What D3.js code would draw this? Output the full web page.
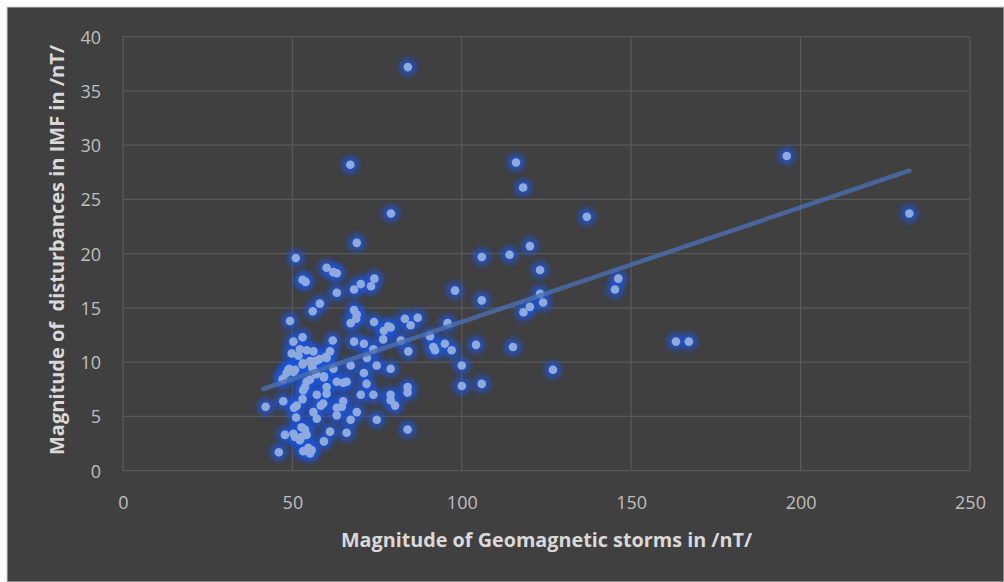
<!DOCTYPE html>
<html>
<head>
<meta charset="utf-8">
<script src="https://d3js.org/d3.v7.min.js"></script>
<style>
    body { margin: 0; background: #ffffff; }
    svg { display: block; }
</style>
</head>
<body>
<script>
// Magnitude of Geomagnetic storms (nT)
var stormX = [
    84.1, 67.1, 116.0, 118.1, 79.1, 136.9, 69.0, 120.1, 105.9, 114.1, 51.0, 123.1,
    195.9, 232.1, 146.2, 145.2, 98.0, 105.9, 123.1, 124.0, 120.1, 118.2, 95.8, 90.6,
    95.0, 91.6, 92.1, 97.0, 104.2, 115.1, 100.0, 100.0, 105.9, 126.9, 163.2, 167.0,
    60.1, 62.1, 63.1, 53.0, 53.9, 74.2, 70.2, 73.2, 68.2, 63.1, 58.1, 56.0,
    68.2, 69.0, 68.8, 67.2, 49.3, 74.1, 78.3, 79.0, 77.0, 76.8, 83.2, 84.9,
    87.0, 53.0, 50.3, 61.9, 68.2, 71.1, 82.0, 73.9, 84.2, 52.2, 54.2, 56.2,
    61.1, 59.9, 58.1, 56.7, 72.0, 53.0,
    49.1, 50.3, 48.3, 47.1, 56.0, 62.1, 67.2, 74.9, 79.0, 71.1, 59.3, 54.2,
    53.7, 55.2, 60.1, 60.1, 63.1, 65.0, 66.0, 71.9, 84.0, 84.0, 70.2, 73.9,
    79.0, 79.0, 80.3, 57.2, 53.0, 53.2, 42.1, 47.3, 50.5, 51.3, 56.2, 59.1,
    58.4, 63.1, 64.6, 65.0, 63.1, 69.0, 67.2, 74.9, 57.2, 51.1, 84.0, 66.0,
    61.1, 59.3, 47.8, 50.3, 50.8, 52.7, 53.7, 52.7, 52.2, 54.2, 46.0, 53.2,
    54.7, 55.2, 55.7,
    53.2, 55.2, 57.6, 60.1, 48.8, 50.8, 47.3, 59.3, 51.8, 55.8, 57.0, 49.8
];

// Magnitude of disturbances in IMF (nT)
var imfY = [
    37.2, 28.2, 28.4, 26.1, 23.7, 23.4, 21.0, 20.7, 19.7, 19.9, 19.6, 18.5,
    29.0, 23.7, 17.7, 16.7, 16.6, 15.7, 16.3, 15.5, 15.1, 14.6, 13.6, 12.4,
    11.7, 11.4, 11.1, 11.1, 11.6, 11.4, 9.7, 7.8, 8.0, 9.3, 11.9, 11.9,
    18.7, 18.3, 18.2, 17.6, 17.4, 17.7, 17.2, 17.0, 16.7, 16.4, 15.4, 14.7,
    14.8, 14.4, 14.0, 13.6, 13.8, 13.7, 13.3, 13.2, 12.9, 12.1, 14.0, 13.4,
    14.1, 12.3, 11.9, 12.0, 11.9, 11.7, 12.0, 11.2, 11.0, 11.2, 11.1, 11.0,
    11.0, 10.5, 10.3, 10.1, 10.4, 9.8,
    9.4, 9.1, 9.0, 8.4, 9.4, 9.4, 9.7, 9.7, 9.4, 9.0, 8.7, 8.2,
    7.7, 8.4, 7.7, 7.1, 8.2, 8.1, 8.2, 8.0, 7.7, 7.2, 7.0, 7.0,
    7.0, 6.5, 6.0, 7.0, 6.6, 7.4, 5.9, 6.4, 5.8, 6.0, 5.4, 6.2,
    6.0, 5.8, 5.9, 6.4, 5.1, 5.4, 4.7, 4.7, 4.8, 4.9, 3.8, 3.5,
    3.6, 2.7, 3.3, 3.4, 3.1, 4.0, 3.8, 3.1, 2.8, 3.3, 1.7, 1.8,
    2.1, 1.6, 1.9,
    9.9, 10.1, 10.2, 10.4, 9.3, 9.3, 8.5, 8.6, 10.6, 9.6, 8.9, 10.8
];

// Linear trendline, end points
var trendX = [41.4, 232.1];
var trendY = [7.53, 27.65];

// Tick labels
var xTicks = [0, 50, 100, 150, 200, 250];
var yTicks = [0, 5, 10, 15, 20, 25, 30, 35, 40];

var xTitle = "Magnitude of Geomagnetic storms in /nT/";
var yTitle = "Magnitude of  disturbances in IMF in /nT/";

function init(){
    var w = 1004;
    var h = 582;

    var svg = d3.select("body")
                .append("svg")
                .attr("width", w)
                .attr("height", h);

    // glow filter for the markers
    var defs = svg.append("defs");
    var glow = defs.append("filter")
                .attr("id", "glow")
                .attr("x", "-100%").attr("y", "-100%")
                .attr("width", "300%").attr("height", "300%");
    glow.append("feGaussianBlur")
        .attr("stdDeviation", 3);

    // chart background
    svg.append("rect")
        .attr("x", 7)
        .attr("y", 7)
        .attr("width", w - 7)
        .attr("height", h - 7)
        .attr("fill", "#404040")
        .attr("stroke", "#d0d0d0")
        .attr("stroke-width", 1);

    var x = d3.scaleLinear()
                .domain([0, 250])
                .range([123, 970]);

    var y = d3.scaleLinear()
                .domain([0, 40])
                .range([470.7, 36.7]);

    // gridlines
    svg.append("g")
        .selectAll("line")
        .data(yTicks)
        .enter()
        .append("line")
        .attr("x1", x(0))
        .attr("x2", x(250))
        .attr("y1", function(d){ return y(d); })
        .attr("y2", function(d){ return y(d); })
        .attr("stroke", "#595959")
        .attr("stroke-width", 1.2);

    svg.append("g")
        .selectAll("line")
        .data(xTicks)
        .enter()
        .append("line")
        .attr("x1", function(d){ return x(d); })
        .attr("x2", function(d){ return x(d); })
        .attr("y1", y(0))
        .attr("y2", y(40))
        .attr("stroke", "#595959")
        .attr("stroke-width", 1.2);

    // axes (labels only, lines drawn as gridlines)
    var xAxis = svg.append("g")
                .attr("transform", "translate(0," + (y(0) + 22) + ")")
                .call(d3.axisBottom(x).tickValues(xTicks).tickSize(0).tickPadding(0));
    var yAxis = svg.append("g")
                .attr("transform", "translate(" + (x(0) - 22) + ",0)")
                .call(d3.axisLeft(y).tickValues(yTicks).tickSize(0).tickPadding(0));

    [xAxis, yAxis].forEach(function(a){
        a.select(".domain").remove();
        a.selectAll("text")
            .attr("fill", "#bfbfbf")
            .style("font-family", "'Open Sans', sans-serif")
            .style("font-size", "18px");
    });
    xAxis.selectAll("text").attr("dy", "0.9em");
    yAxis.selectAll("text").attr("dy", "0.35em");

    // points: blue glow first, then the marker
    var points = d3.range(stormX.length);

    svg.append("g")
        .selectAll("circle")
        .data(points)
        .enter()
        .append("circle")
        .attr("cx", function(i){ return x(stormX[i]); })
        .attr("cy", function(i){ return y(imfY[i]); })
        .attr("r", 8)
        .attr("fill", "#1f55e0")
        .attr("opacity", 0.9)
        .attr("filter", "url(#glow)");

    svg.append("g")
        .selectAll("circle")
        .data(points)
        .enter()
        .append("circle")
        .attr("cx", function(i){ return x(stormX[i]); })
        .attr("cy", function(i){ return y(imfY[i]); })
        .attr("r", 4.3)
        .attr("fill", "#8eaadc");

    // trendline
    svg.append("line")
        .attr("x1", x(trendX[0]))
        .attr("y1", y(trendY[0]))
        .attr("x2", x(trendX[1]))
        .attr("y2", y(trendY[1]))
        .attr("stroke", "#4a6fb0")
        .attr("stroke-opacity", 0.8)
        .attr("stroke-width", 4.5)
        .attr("stroke-linecap", "round");

    // axis titles
    svg.append("text")
        .attr("x", (x(0) + x(250)) / 2)
        .attr("y", 547)
        .attr("text-anchor", "middle")
        .attr("fill", "#d9d9d9")
        .style("font-family", "'Open Sans', sans-serif")
        .style("font-weight", "bold")
        .style("font-size", "19.8px")
        .text(xTitle);

    svg.append("text")
        .attr("transform", "translate(64,250) rotate(-90)")
        .attr("text-anchor", "middle")
        .attr("fill", "#d9d9d9")
        .style("font-family", "'Open Sans', sans-serif")
        .style("font-weight", "bold")
        .style("font-size", "20px")
        .style("white-space", "pre")
        .text(yTitle);
}
window.onload = init;
</script>
</body>
</html>
